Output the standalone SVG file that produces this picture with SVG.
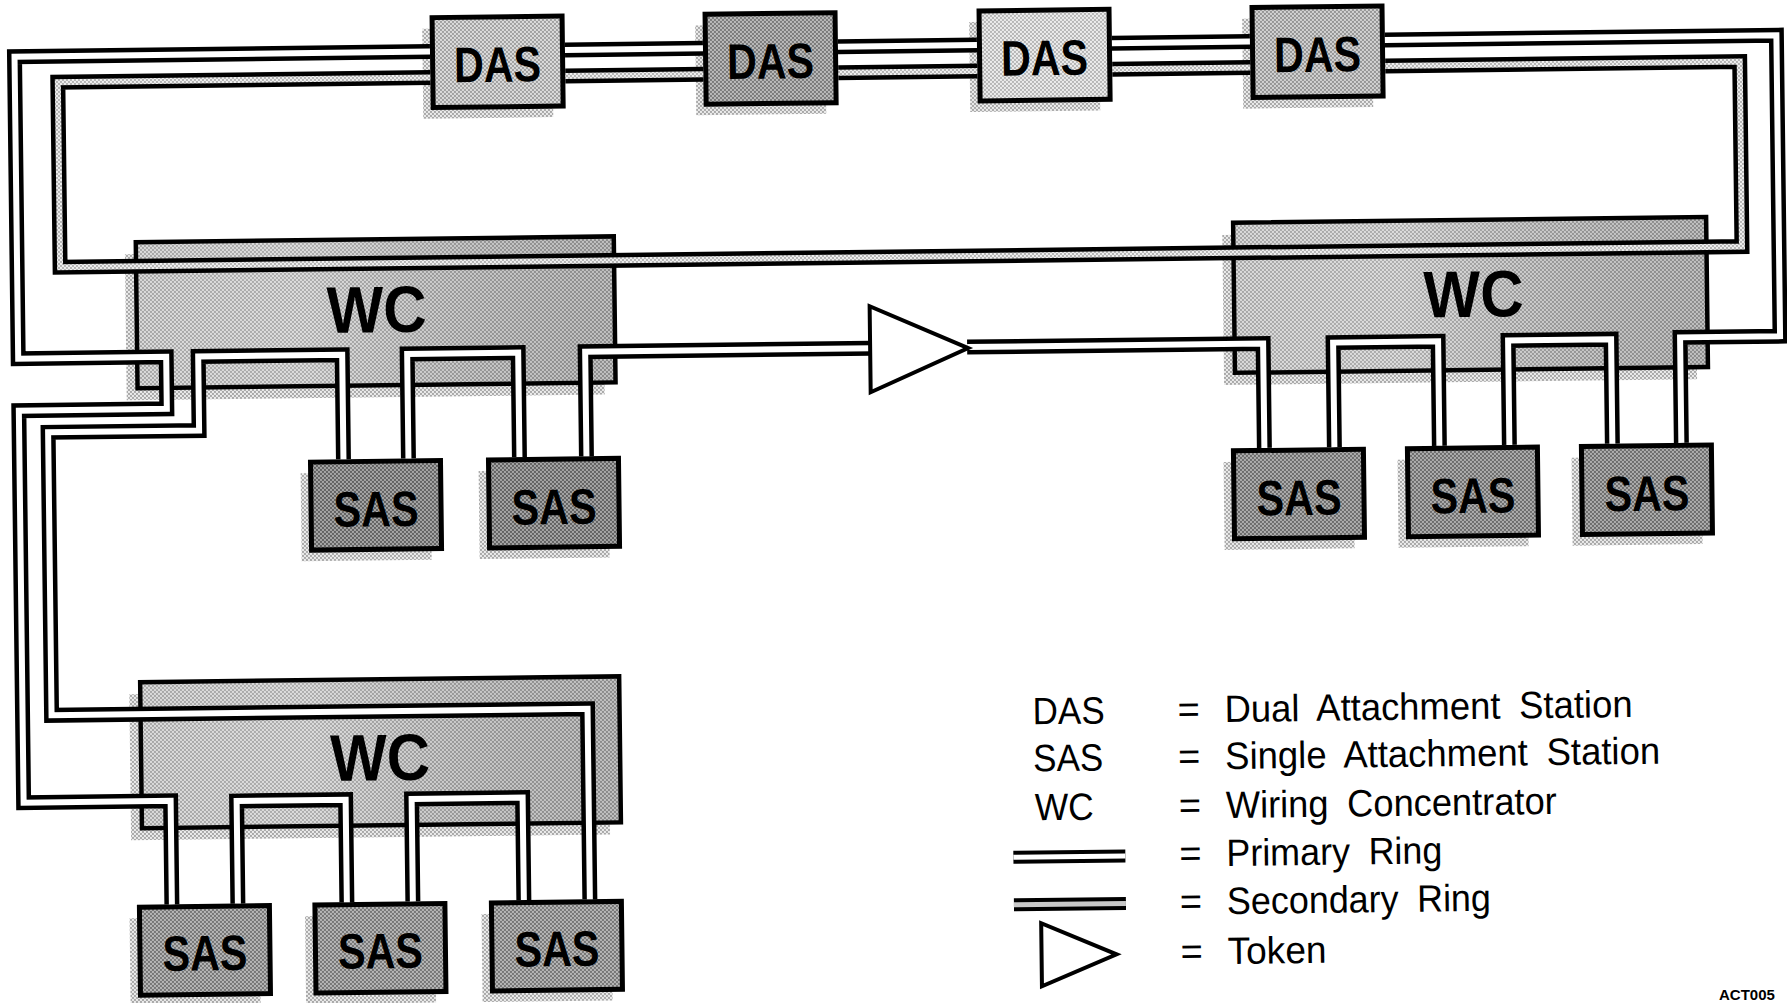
<svg xmlns="http://www.w3.org/2000/svg" width="1787" height="1003" viewBox="0 0 1787 1003">
<style>
.tube{fill:none;stroke:#000;stroke-width:15}
.pri{fill:none;stroke:#fff;stroke-width:6}
.sec{fill:none;stroke:url(#pSec);stroke-width:6}
.ltube{fill:none;stroke:#000;stroke-width:13}
.lpri{fill:none;stroke:#fff;stroke-width:5}
.lsec{fill:none;stroke:#c8c8c8;stroke-width:5}
.sh{fill:url(#pSh)}
.wc{fill:url(#pWC);stroke:#000;stroke-width:4.5}
.wcg{fill:url(#gwc);stroke:none}
.box{stroke:#000;stroke-width:5}
.d1{fill:url(#pD1)}.d2{fill:url(#pD2)}.d3{fill:url(#pD3)}.d4{fill:url(#pD4)}
.sasL{fill:url(#pSL)}.sasR{fill:url(#pSR)}.sasB{fill:url(#pSB)}
.lb{font-family:"Liberation Sans",Arial,sans-serif;font-weight:bold;text-anchor:middle;fill:#000}
.lg{font-family:"Liberation Sans",Arial,sans-serif;font-size:38px;word-spacing:9px;fill:#000}
.tok{fill:#fff;stroke:#000;stroke-width:4;stroke-linejoin:miter}
</style>
<defs>
<pattern id="pWC" width="4" height="4" patternUnits="userSpaceOnUse" patternTransform="rotate(0.7)"><rect width="4" height="4" fill="#d6d6d6"/><rect width="2" height="2" fill="#9a9a9a"/><rect x="2" y="2" width="2" height="2" fill="#9a9a9a"/></pattern>
<pattern id="pD1" width="4" height="4" patternUnits="userSpaceOnUse" patternTransform="rotate(0.7)"><rect width="4" height="4" fill="#dcdcdc"/><rect width="2" height="2" fill="#a0a0a0"/><rect x="2" y="2" width="2" height="2" fill="#a0a0a0"/></pattern>
<pattern id="pD2" width="4" height="4" patternUnits="userSpaceOnUse" patternTransform="rotate(0.7)"><rect width="4" height="4" fill="#bababa"/><rect width="2" height="2" fill="#7a7a7a"/><rect x="2" y="2" width="2" height="2" fill="#7a7a7a"/></pattern>
<pattern id="pD3" width="4" height="4" patternUnits="userSpaceOnUse" patternTransform="rotate(0.7)"><rect width="4" height="4" fill="#ececec"/><rect width="2" height="2" fill="#b6b6b6"/><rect x="2" y="2" width="2" height="2" fill="#b6b6b6"/></pattern>
<pattern id="pD4" width="4" height="4" patternUnits="userSpaceOnUse" patternTransform="rotate(0.7)"><rect width="4" height="4" fill="#d2d2d2"/><rect width="2" height="2" fill="#959595"/><rect x="2" y="2" width="2" height="2" fill="#959595"/></pattern>
<pattern id="pSL" width="4" height="4" patternUnits="userSpaceOnUse" patternTransform="rotate(0.7)"><rect width="4" height="4" fill="#a6a6a6"/><rect width="2" height="2" fill="#626262"/><rect x="2" y="2" width="2" height="2" fill="#626262"/></pattern>
<pattern id="pSR" width="4" height="4" patternUnits="userSpaceOnUse" patternTransform="rotate(0.7)"><rect width="4" height="4" fill="#adadad"/><rect width="2" height="2" fill="#6c6c6c"/><rect x="2" y="2" width="2" height="2" fill="#6c6c6c"/></pattern>
<pattern id="pSB" width="4" height="4" patternUnits="userSpaceOnUse" patternTransform="rotate(0.7)"><rect width="4" height="4" fill="#b6b6b6"/><rect width="2" height="2" fill="#767676"/><rect x="2" y="2" width="2" height="2" fill="#767676"/></pattern>
<pattern id="pSh" width="4" height="4" patternUnits="userSpaceOnUse" patternTransform="rotate(0.7)"><rect width="4" height="4" fill="#ececec"/><rect width="2" height="2" fill="#a8a8a8"/><rect x="2" y="2" width="2" height="2" fill="#a8a8a8"/></pattern>
<pattern id="pSec" width="4" height="4" patternUnits="userSpaceOnUse" patternTransform="rotate(0.7)"><rect width="4" height="4" fill="#f0f0f0"/><rect width="2" height="2" fill="#b4b4b4"/><rect x="2" y="2" width="2" height="2" fill="#b4b4b4"/></pattern>
<linearGradient id="gwc" x1="0" y1="0" x2="1" y2="0">
<stop offset="0" stop-color="#fff" stop-opacity="0.12"/><stop offset="0.35" stop-color="#fff" stop-opacity="0.18"/><stop offset="1" stop-color="#000" stop-opacity="0.1"/>
</linearGradient>
<path id="pL" d="M435.5 46H20V348H168V400H20V792H167V895.5"/>
<path id="pR" d="M1390.5 46H1782V347H1682V452.5"/>
<path id="pD" d="M570.5 46H708.5M843.5 46H982.5M1117.5 46H1255.5"/>
<path id="sT" d="M435.5 72H63V257H1745V72H1390.5M570.5 72H708.5M843.5 72H982.5M1117.5 72H1255.5"/>
<path id="t2" d="M344 452.5V348H200V422H49V705H585V895.5"/>
<path id="t3" d="M409 452.5V348H520V452.5"/>
<path id="t4" d="M587 452.5V348H873"/>
<path id="t5" d="M969 348H1265V452.5"/>
<path id="tb" d="M1335 452.5V348H1440V452.5"/>
<path id="tc" d="M1510 452.5V348H1613V452.5"/>
<path id="tx" d="M233 895.5V793H342V895.5"/>
<path id="ty" d="M408 895.5V793H519V895.5"/>
</defs>
<rect width="1787" height="1003" fill="#fff"/>
<g transform="rotate(-0.7 893 500)">
<g id="wc-left"><rect class="sh" x="128" y="245" width="478" height="146"/><rect class="wc" x="139" y="233" width="478" height="146"/><rect class="wcg" x="141" y="235" width="474" height="142"/><text class="lb" x="379" y="326" font-size="66" textLength="100" lengthAdjust="spacingAndGlyphs">WC</text></g>
<g id="wc-right"><rect class="sh" x="1225.5" y="239" width="473" height="150"/><rect class="wc" x="1236.5" y="227" width="473" height="150"/><rect class="wcg" x="1238.5" y="229" width="469" height="146"/><text class="lb" x="1476" y="324" font-size="66" textLength="100" lengthAdjust="spacingAndGlyphs">WC</text></g>
<g id="wc-bottom"><rect class="sh" x="127" y="685" width="479" height="146"/><rect class="wc" x="138" y="673" width="479" height="146"/><rect class="wcg" x="140" y="675" width="475" height="142"/><text class="lb" x="377" y="774" font-size="66" textLength="100" lengthAdjust="spacingAndGlyphs">WC</text></g>
<g id="das1"><rect class="sh" x="428" y="23" width="130" height="90"/><rect class="box d1" x="438" y="12" width="130" height="90"/><text class="lb" x="503" y="77" font-size="50" textLength="87" lengthAdjust="spacingAndGlyphs">DAS</text></g>
<g id="das2"><rect class="sh" x="701" y="23" width="130" height="90"/><rect class="box d2" x="711" y="12" width="130" height="90"/><text class="lb" x="776" y="77" font-size="50" textLength="87" lengthAdjust="spacingAndGlyphs">DAS</text></g>
<g id="das3"><rect class="sh" x="975" y="23" width="130" height="90"/><rect class="box d3" x="985" y="12" width="130" height="90"/><text class="lb" x="1050" y="77" font-size="50" textLength="87" lengthAdjust="spacingAndGlyphs">DAS</text></g>
<g id="das4"><rect class="sh" x="1248" y="23" width="130" height="90"/><rect class="box d4" x="1258" y="12" width="130" height="90"/><text class="lb" x="1323" y="77" font-size="50" textLength="87" lengthAdjust="spacingAndGlyphs">DAS</text></g>
<g id="sas-l1"><rect class="sh" x="301" y="466" width="130" height="88"/><rect class="box sasL" x="311" y="455" width="130" height="88"/><text class="lb" x="376" y="520" font-size="50" textLength="85" lengthAdjust="spacingAndGlyphs">SAS</text></g>
<g id="sas-l2"><rect class="sh" x="479" y="466" width="130" height="88"/><rect class="box sasL" x="489" y="455" width="130" height="88"/><text class="lb" x="554" y="520" font-size="50" textLength="85" lengthAdjust="spacingAndGlyphs">SAS</text></g>
<g id="sas-r1"><rect class="sh" x="1224" y="466" width="130" height="88"/><rect class="box sasR" x="1234" y="455" width="130" height="88"/><text class="lb" x="1299" y="520" font-size="50" textLength="85" lengthAdjust="spacingAndGlyphs">SAS</text></g>
<g id="sas-r2"><rect class="sh" x="1398" y="466" width="130" height="88"/><rect class="box sasR" x="1408" y="455" width="130" height="88"/><text class="lb" x="1473" y="520" font-size="50" textLength="85" lengthAdjust="spacingAndGlyphs">SAS</text></g>
<g id="sas-r3"><rect class="sh" x="1572" y="466" width="130" height="88"/><rect class="box sasR" x="1582" y="455" width="130" height="88"/><text class="lb" x="1647" y="520" font-size="50" textLength="85" lengthAdjust="spacingAndGlyphs">SAS</text></g>
<g id="sas-b1"><rect class="sh" x="124.5" y="909" width="130" height="88"/><rect class="box sasB" x="134.5" y="898" width="130" height="88"/><text class="lb" x="199.5" y="962" font-size="50" textLength="85" lengthAdjust="spacingAndGlyphs">SAS</text></g>
<g id="sas-b2"><rect class="sh" x="300" y="909" width="130" height="88"/><rect class="box sasB" x="310" y="898" width="130" height="88"/><text class="lb" x="375" y="962" font-size="50" textLength="85" lengthAdjust="spacingAndGlyphs">SAS</text></g>
<g id="sas-b3"><rect class="sh" x="476.5" y="909" width="130" height="88"/><rect class="box sasB" x="486.5" y="898" width="130" height="88"/><text class="lb" x="551.5" y="962" font-size="50" textLength="85" lengthAdjust="spacingAndGlyphs">SAS</text></g>
<g id="connectors">
<use href="#sT" class="tube"/><use href="#sT" class="sec"/>
<use href="#pL" class="tube"/><use href="#pL" class="pri"/>
<use href="#pR" class="tube"/><use href="#pR" class="pri"/>
<use href="#pD" class="tube"/><use href="#pD" class="pri"/>
<use href="#t2" class="tube"/><use href="#t2" class="pri"/>
<use href="#t3" class="tube"/><use href="#t3" class="pri"/>
<use href="#t4" class="tube"/><use href="#t4" class="pri"/>
<use href="#t5" class="tube"/><use href="#t5" class="pri"/>
<use href="#tb" class="tube"/><use href="#tb" class="pri"/>
<use href="#tc" class="tube"/><use href="#tc" class="pri"/>
<use href="#tx" class="tube"/><use href="#tx" class="pri"/>
<use href="#ty" class="tube"/><use href="#ty" class="pri"/>
</g>
<g id="token"><polygon class="tok" points="872,306 872,392 970,349"/></g>
<g id="legend">
<text class="lg" x="1030" y="726" textLength="72" lengthAdjust="spacingAndGlyphs">DAS</text>
<text class="lg" x="1175" y="726">=</text>
<text class="lg" x="1222" y="726" textLength="408" lengthAdjust="spacingAndGlyphs">Dual Attachment Station</text>
<text class="lg" x="1030" y="773" textLength="70" lengthAdjust="spacingAndGlyphs">SAS</text>
<text class="lg" x="1175" y="773">=</text>
<text class="lg" x="1222" y="773" textLength="435" lengthAdjust="spacingAndGlyphs">Single Attachment Station</text>
<text class="lg" x="1031" y="822" textLength="59" lengthAdjust="spacingAndGlyphs">WC</text>
<text class="lg" x="1175" y="822">=</text>
<text class="lg" x="1222" y="822" textLength="331" lengthAdjust="spacingAndGlyphs">Wiring Concentrator</text>
<path class="ltube" d="M1009 858.7H1121"/><path class="lpri" d="M1009 858.7H1121"/>
<text class="lg" x="1175" y="870">=</text>
<text class="lg" x="1222" y="870" textLength="216" lengthAdjust="spacingAndGlyphs">Primary Ring</text>
<path class="ltube" d="M1009 906.2H1121"/><path class="lsec" d="M1009 906.2H1121"/>
<text class="lg" x="1175" y="918">=</text>
<text class="lg" x="1222" y="918" textLength="264" lengthAdjust="spacingAndGlyphs">Secondary Ring</text>
<polygon class="tok" points="1036,925 1036,988 1111,957"/>
<text class="lg" x="1175" y="968">=</text>
<text class="lg" x="1222" y="968" textLength="99" lengthAdjust="spacingAndGlyphs">Token</text>
</g>
</g>
<text id="ref-code" x="1719" y="1000" font-family="Liberation Sans, Arial, sans-serif" font-weight="bold" font-size="15">ACT005</text>
</svg>
